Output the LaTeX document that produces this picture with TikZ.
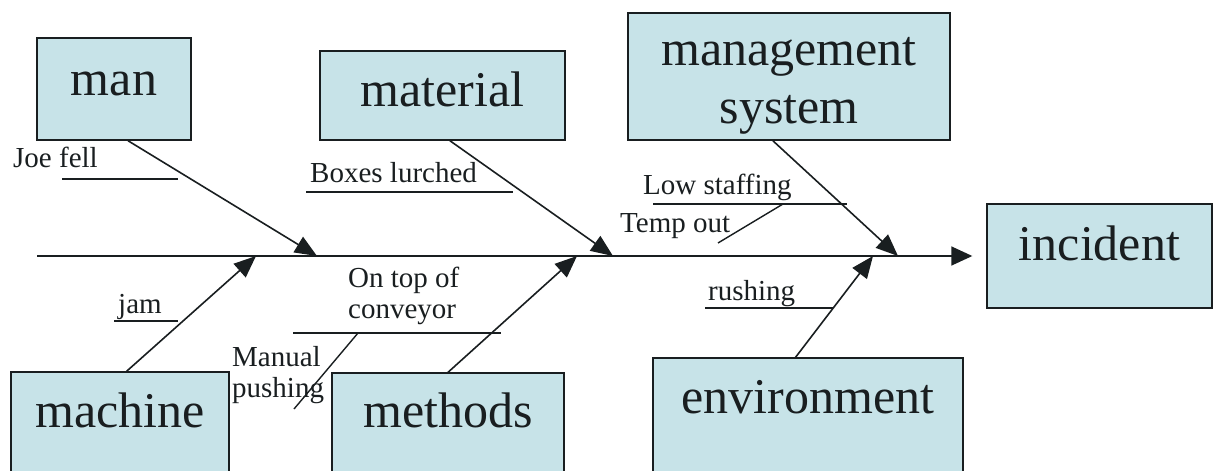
\documentclass[tikz,border=0pt]{standalone}
\usepackage{fontspec}
\setmainfont{Liberation Serif}
\usetikzlibrary{arrows.meta,calc}
\definecolor{boxfill}{RGB}{199,227,232}
\definecolor{ink}{RGB}{25,30,32}
\begin{document}
\begin{tikzpicture}[x=1pt,y=-1pt,
  causebox/.style={draw=ink, line width=1.4pt, fill=boxfill, inner sep=0pt, anchor=base, text=ink, font=\fontsize{50}{58}\selectfont, align=center},
  note/.style={inner sep=0pt, anchor=base west, text=ink, font=\fontsize{29}{31}\selectfont, align=left},
  bone/.style={draw=ink, line width=1.6pt, -{Triangle[length=22pt,width=18pt]}},
  subline/.style={draw=ink, line width=1.4pt}]
\useasboundingbox (0,0) rectangle (1215,471);
\clip (0,0) rectangle (1215,471);
% cause boxes
\node[causebox, minimum width=154pt, text height=57pt, text depth=45pt] (man) at (114,95) {man};
\node[causebox, minimum width=245pt, text height=55pt, text depth=34pt] (material) at (442.5,106) {material};
\node[causebox, minimum width=322pt, text height=110pt, text depth=17pt] (mgmt) at (789,123) {management\\system};
\node[causebox, minimum width=225pt, text height=56pt, text depth=48pt] (incident) at (1099.5,260) {incident};
\node[causebox, minimum width=218pt, text height=55pt, text depth=73pt] (machine) at (120,427) {machine};
\node[causebox, minimum width=232pt, text height=54pt, text depth=73pt] (methods) at (448,427) {methods};
\node[causebox, minimum width=310pt, text height=55pt, text depth=87pt] (env) at (808,413) {environment};
% spine
\coordinate (spineL) at (37,256);
\draw[bone, -{Triangle[length=21pt,width=19pt]}, shorten >=14pt] (spineL) -- (incident.west);
% bone tips on the spine
\coordinate (tMan) at (317,256);
\coordinate (tMat) at (613,256);
\coordinate (tMgmt) at (898,256);
\coordinate (tMach) at (256,256);
\coordinate (tMeth) at (577,256);
\coordinate (tEnv) at (873,256);
\draw[bone] ($(man.south west)!0.59!(man.south east)$) -- (tMan);
\draw[bone] ($(material.south west)!0.53!(material.south east)$) -- (tMat);
\draw[bone] ($(mgmt.south west)!0.45!(mgmt.south east)$) -- (tMgmt);
\draw[bone] ($(machine.north west)!0.53!(machine.north east)$) -- (tMach);
\draw[bone] ($(methods.north west)!0.5!(methods.north east)$) -- (tMeth);
\draw[bone] ($(env.north west)!0.46!(env.north east)$) -- (tEnv);
% sub-cause texts
\node[note] (joe) at (13,167) {Joe fell};
\node[note] (boxes) at (310,182) {Boxes lurched};
\node[note] (ontop) at (348,318) {On top of\\conveyor};
\node[note] (manual) at (232,397) {Manual\\pushing};
\node[note] (jam) at (118,313) {jam};
\node[note] (low) at (643,194) {Low staffing};
\node[note] (temp) at (620,232) {Temp out};
\node[note] (rush) at (708,300) {rushing};
% sub-cause lines
\coordinate (joeA) at (62,179);   \coordinate (joeB) at (178,179);
\coordinate (boxA) at (306,192);  \coordinate (boxB) at (513,192);
\coordinate (topA) at (293,333);  \coordinate (topB) at (501,333);
\coordinate (manA) at (358,333);  \coordinate (manB) at (294,409);
\coordinate (jamA) at (114,321);  \coordinate (jamB) at (178,321);
\coordinate (lowA) at (653,204);  \coordinate (lowB) at (847,204);
\coordinate (tmpA) at (783,204);  \coordinate (tmpB) at (718,243);
\coordinate (rusA) at (705,308);  \coordinate (rusB) at (833,308);
\draw[subline] (joeA) -- (joeB);
\draw[subline] (boxA) -- (boxB);
\draw[subline] (topA) -- (topB);
\draw[subline] (manA) -- (manB);
\draw[subline] (jamA) -- (jamB);
\draw[subline] (lowA) -- (lowB);
\draw[subline] (tmpA) -- (tmpB);
\draw[subline] (rusA) -- (rusB);
\end{tikzpicture}
\end{document}
